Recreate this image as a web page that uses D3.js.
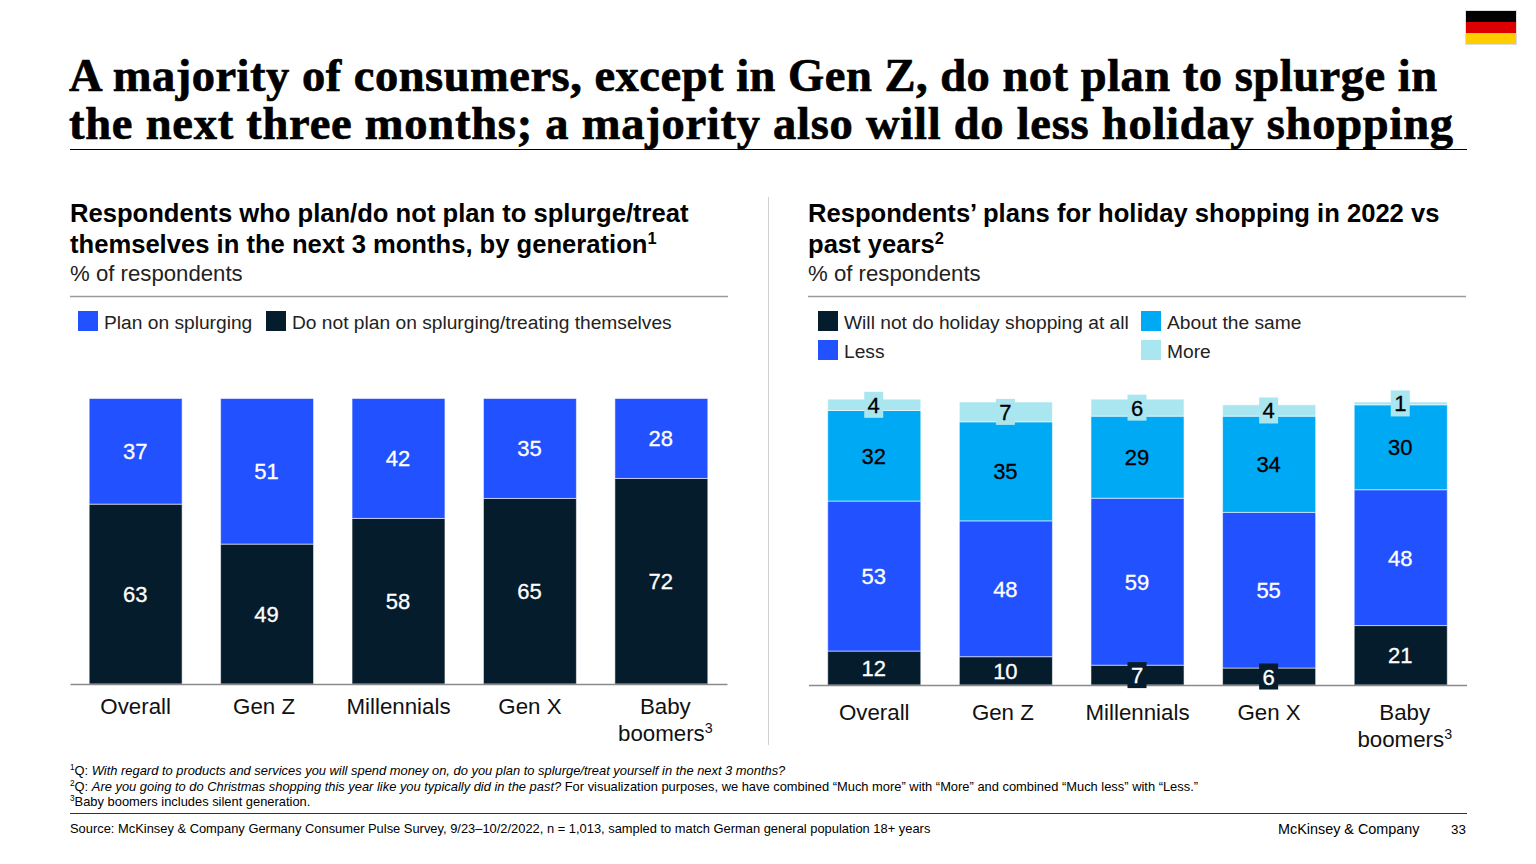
<!DOCTYPE html>
<html>
<head>
<meta charset="utf-8">
<script src="https://cdn.jsdelivr.net/npm/d3@7"></script>
<style>
	html, body { margin: 0; padding: 0; background: #ffffff; }
	svg { display: block; }
	text { font-family: "Liberation Sans", Arial, sans-serif; fill: #000000; }
	.title { font-family: "Liberation Serif", Georgia, serif; font-weight: bold; font-size: 46.5px; stroke: #000000; stroke-width: 0.7px; }
	.heading { font-weight: bold; font-size: 25.6px; }
	.subHeading { font-size: 22.2px; fill: #222222; }
	.legendLabel { font-size: 19.2px; fill: #222222; }
	.barLabel { font-size: 22px; text-anchor: middle; stroke-width: 0.3px; }
	.axisLabel { font-size: 22.3px; text-anchor: middle; fill: #111111; }
	.note { font-size: 12.9px; }
</style>
</head>
<body>
<svg id="chart" width="1536" height="864"></svg>
<script>
//values

var GENERATIONS = ["Overall", "Gen Z", "Millennials", "Gen X", "Baby boomers"];

var SPLURGE_KEYS = ["Do not plan on splurging/treating themselves", "Plan on splurging"];
var DO_NOT_SPLURGE = [63, 49, 58, 65, 72];
var PLAN_SPLURGE = [37, 51, 42, 35, 28];

var HOLIDAY_KEYS = ["Will not do holiday shopping at all", "Less", "About the same", "More"];
var HOLIDAY_NONE = [12, 10, 7, 6, 21];
var HOLIDAY_LESS = [53, 48, 59, 55, 48];
var HOLIDAY_SAME = [32, 35, 29, 34, 30];
var HOLIDAY_MORE = [4, 7, 6, 4, 1];

var TITLE_LINES = [
	"A majority of consumers, except in Gen Z, do not plan to splurge in",
	"the next three months; a majority also will do less holiday shopping"
];

var DARK = "#051c2c";
var BLUE = "#2251ff";
var CYAN = "#00a9f4";
var PALE = "#aae6f0";
var LABEL_NUDGE = [0, -3, 0, 0, 4];

var svg = d3.select("#chart");

function hLine(x1, x2, y, color, width) {
	svg.append("line")
		.attr("x1", x1).attr("x2", x2)
		.attr("y1", y).attr("y2", y)
		.attr("stroke", color)
		.attr("stroke-width", width);
}

//adds a text line, parts are [string, "sup"|"i"|undefined]
function addText(x, y, cls, parts) {
	var t = svg.append("text").attr("class", cls).attr("x", x).attr("y", y);
	var pending = 0;
	parts.forEach(function(p) {
		var s = t.append("tspan").text(p[0]);
		var size = parseFloat(getComputedStyle(t.node()).fontSize);
		if (p[1] == "sup") {
			s.attr("dy", -size * 0.36).style("font-size", (size * 0.64) + "px");
			pending = size * 0.36;
		} else {
			if (pending) s.attr("dy", pending);
			pending = 0;
			if (p[1] == "i") s.style("font-style", "italic");
		}
	});
	return t;
}

function drawChart(cfg) {
	var x = d3.scaleBand()
		.domain(GENERATIONS)
		.range(cfg.xRange)
		.paddingInner(0.293)
		.paddingOuter(0.146);

	var y = d3.scaleLinear()
		.domain([0, 100])
		.range([cfg.baseline, cfg.baseline - cfg.height]);

	var rows = GENERATIONS.map(function(g, i) {
		var row = { generation: g };
		cfg.keys.forEach(function(k, j) { row[k] = cfg.series[j][i]; });
		return row;
	});

	var layers = d3.stack().keys(cfg.keys)(rows);
	var chart = svg.append("g");

	var layer = chart.selectAll(".layer")
		.data(layers)
		.enter()
		.append("g")
		.attr("class", "layer");

	layer.selectAll("rect")
		.data(function(d) { return d; })
		.enter()
		.append("rect")
		.attr("x", function(d) { return x(d.data.generation); })
		.attr("width", x.bandwidth())
		.attr("y", function(d) { return y(d[1]); })
		.attr("height", function(d) { return y(d[0]) - y(d[1]); })
		.attr("fill", function(d) {
			return cfg.colors[d3.select(this.parentNode).datum().index];
		})
		.attr("stroke", "#ffffff")
		.attr("stroke-opacity", 0.55)
		.attr("stroke-width", 1);

	var axis = chart.append("g")
		.attr("transform", "translate(0," + cfg.baseline + ")")
		.call(d3.axisBottom(x).tickSize(0).tickSizeOuter(0).tickFormat(""));

	axis.select(".domain")
		.attr("stroke", "#8a8a8a")
		.attr("stroke-width", 1.5);

	//value labels go over the axis, thin segments get a small box so the number stays readable
	layers.forEach(function(l) {
		var g = chart.append("g");
		l.forEach(function(d) {
			var v = d[1] - d[0];
			var cx = x(d.data.generation) + x.bandwidth() / 2 - 0.5;
			var cy = (y(d[0]) + y(d[1])) / 2;
			if (v < 8) {
				g.append("rect")
					.attr("x", cx - 9.5)
					.attr("y", cy - 13)
					.attr("width", 19)
					.attr("height", 26)
					.attr("fill", cfg.colors[l.index]);
			}
			g.append("text")
				.attr("class", "barLabel")
				.attr("x", cx)
				.attr("y", cy + 8)
				.style("fill", cfg.textColors[l.index])
				.style("stroke", cfg.textColors[l.index])
				.text(v);
		});
	});

	GENERATIONS.forEach(function(g, i) {
		var cx = x(g) + x.bandwidth() / 2 + LABEL_NUDGE[i];
		var ly = cfg.baseline + cfg.labelGap;
		if (g == "Baby boomers") {
			addText(cx, ly, "axisLabel", [["Baby"]]);
			addText(cx, ly + 27, "axisLabel", [["boomers"], ["3", "sup"]]);
		} else {
			addText(cx, ly, "axisLabel", [[g]]);
		}
	});
}

function legendItem(x, y, color, label) {
	svg.append("rect")
		.attr("x", x).attr("y", y)
		.attr("width", 20).attr("height", 20)
		.attr("fill", color);
	addText(x + 26, y + 18, "legendLabel", [[label]]);
}

//title, stretched to the width of the original serif
addText(69, 91, "title", [[TITLE_LINES[0]]]).attr("textLength", 1368);
addText(69, 139, "title", [[TITLE_LINES[1]]]).attr("textLength", 1384);
hLine(70, 1467, 149.5, "#000000", 1);

//flag
[["#000000", 11], ["#dd0000", 22], ["#ffce00", 33]].forEach(function(b) {
	svg.append("rect")
		.attr("x", 1466).attr("y", b[1])
		.attr("width", 50).attr("height", 11)
		.attr("fill", b[0]);
});
svg.append("rect")
	.attr("x", 1465.5).attr("y", 10.5)
	.attr("width", 51).attr("height", 34)
	.attr("fill", "none")
	.attr("stroke", "#dddddd");

//headings
addText(70, 222, "heading", [["Respondents who plan/do not plan to splurge/treat"]]);
addText(70, 253, "heading", [["themselves in the next 3 months, by generation"], ["1", "sup"]]);
addText(70, 281, "subHeading", [["% of respondents"]]);
addText(808, 222, "heading", [["Respondents\u2019 plans for holiday shopping in 2022 vs"]]);
addText(808, 253, "heading", [["past years"], ["2", "sup"]]);
addText(808, 281, "subHeading", [["% of respondents"]]);
hLine(70, 728, 296.5, "#9a9a9a", 1.5);
hLine(808, 1466, 296.5, "#9a9a9a", 1.5);

//divider between panels
svg.append("line")
	.attr("x1", 768.5).attr("x2", 768.5)
	.attr("y1", 197).attr("y2", 745)
	.attr("stroke", "#d0d0d0")
	.attr("stroke-width", 1);

//legends
legendItem(78, 311, BLUE, SPLURGE_KEYS[1]);
legendItem(266, 311, DARK, SPLURGE_KEYS[0]);
legendItem(818, 311, DARK, HOLIDAY_KEYS[0]);
legendItem(818, 340, BLUE, HOLIDAY_KEYS[1]);
legendItem(1141, 311, CYAN, HOLIDAY_KEYS[2]);
legendItem(1141, 340, PALE, HOLIDAY_KEYS[3]);

drawChart({
	xRange: [70, 727],
	baseline: 684,
	height: 285.5,
	labelGap: 30,
	keys: SPLURGE_KEYS,
	series: [DO_NOT_SPLURGE, PLAN_SPLURGE],
	colors: [DARK, BLUE],
	textColors: ["#ffffff", "#ffffff"]
});

drawChart({
	xRange: [808.5, 1466.5],
	baseline: 685,
	height: 283,
	labelGap: 35,
	keys: HOLIDAY_KEYS,
	series: [HOLIDAY_NONE, HOLIDAY_LESS, HOLIDAY_SAME, HOLIDAY_MORE],
	colors: [DARK, BLUE, CYAN, PALE],
	textColors: ["#ffffff", "#ffffff", "#000000", "#000000"]
});

//footnotes
addText(70, 775, "note", [["1", "sup"], ["Q: "], ["With regard to products and services you will spend money on, do you plan to splurge/treat yourself in the next 3 months?", "i"]]);
addText(70, 791, "note", [["2", "sup"], ["Q: "], ["Are you going to do Christmas shopping this year like you typically did in the past?", "i"], [" For visualization purposes, we have combined \u201cMuch more\u201d with \u201cMore\u201d and combined \u201cMuch less\u201d with \u201cLess.\u201d"]]);
addText(70, 806, "note", [["3", "sup"], ["Baby boomers includes silent generation."]]);
hLine(70, 1467, 813.5, "#333333", 1);
addText(70, 833, "note", [["Source: McKinsey & Company Germany Consumer Pulse Survey, 9/23\u201310/2/2022, n = 1,013, sampled to match German general population 18+ years"]]);
addText(1278, 834, "note", [["McKinsey & Company"]]).style("font-size", "14.4px");
addText(1451, 834, "note", [["33"]]).style("font-size", "13.4px");
</script>
</body>
</html>
